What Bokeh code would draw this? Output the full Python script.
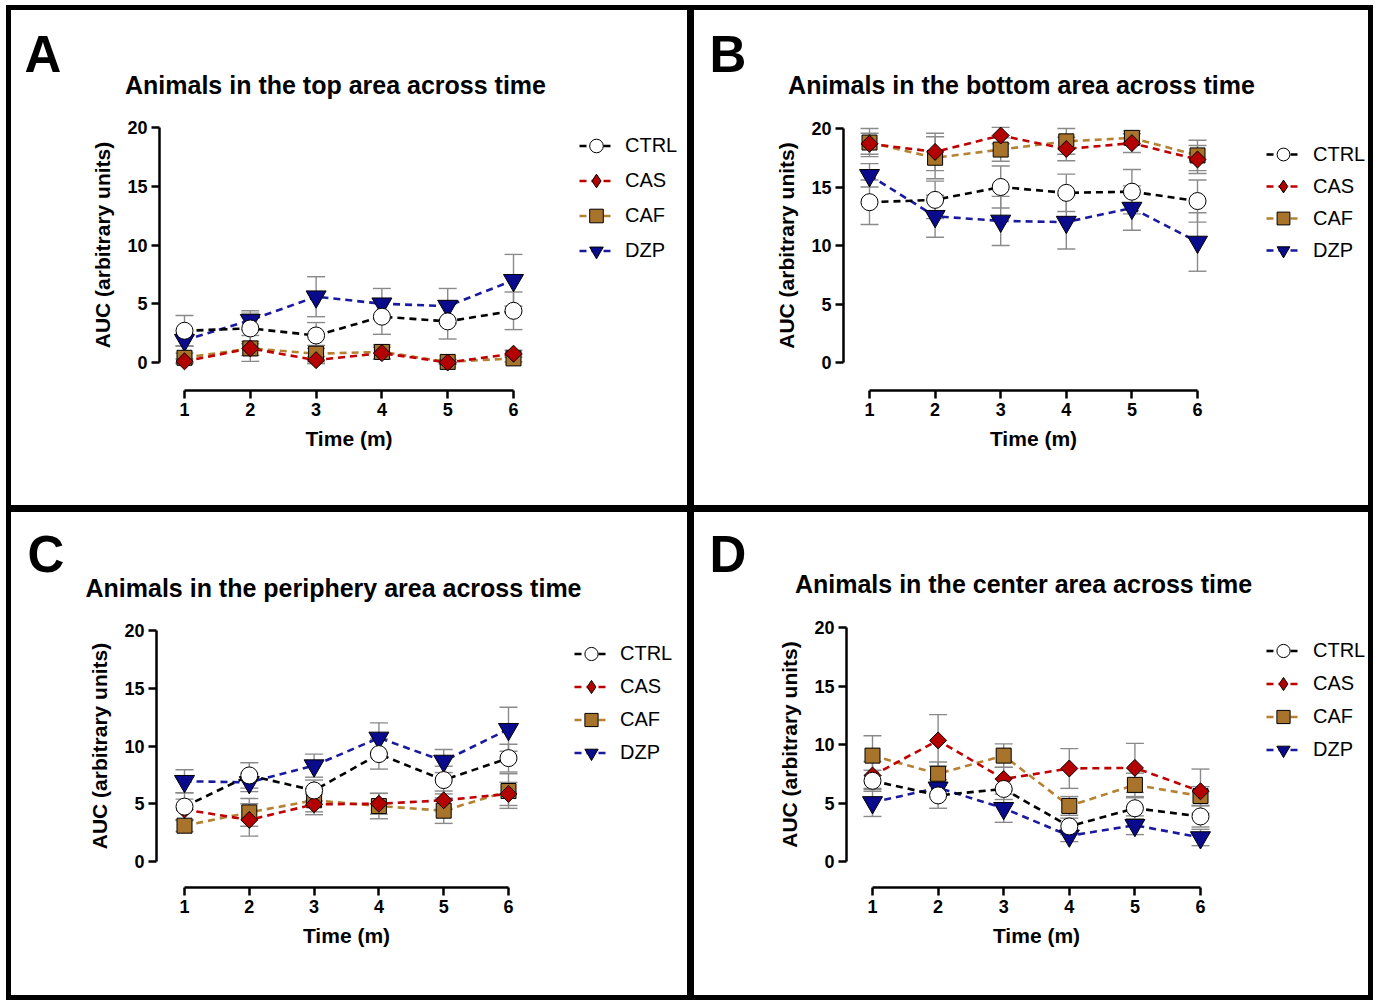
from bokeh.plotting import figure
from bokeh.models import (ColumnDataSource, Whisker, TeeHead, Label, Legend, LegendItem,
                          FixedTicker, Range1d)
from bokeh.layouts import row, column
from bokeh.embed import file_html
from bokeh.resources import INLINE
import math

# ---------------- data ----------------
time_points = [1, 2, 3, 4, 5, 6]
groups = ["CTRL", "CAS", "CAF", "DZP"]

# Panel A: top area
a_ctrl = [2.7, 2.9, 2.3, 3.9, 3.5, 4.4]
a_ctrl_err = [1.3, 1.3, 1.1, 1.5, 1.5, 1.6]
a_cas = [0.1, 1.2, 0.2, 0.8, 0.0, 0.75]
a_cas_err = [0.2, 1.1, 0.3, 0.5, 0.1, 0.3]
a_caf = [0.4, 1.2, 0.75, 0.9, 0.05, 0.35]
a_caf_err = [0.4, 0.6, 0.7, 0.6, 0.2, 0.3]
a_dzp = [1.9, 3.6, 5.6, 5.0, 4.8, 7.0]
a_dzp_err = [0.5, 0.8, 1.7, 1.3, 1.5, 2.2]

# Panel B: bottom area
b_ctrl = [13.7, 13.9, 15.0, 14.5, 14.6, 13.8]
b_ctrl_err = [1.9, 1.6, 1.8, 1.6, 1.9, 1.8]
b_cas = [18.7, 18.0, 19.4, 18.25, 18.75, 17.35]
b_cas_err = [0.9, 1.6, 0.7, 1.0, 0.8, 1.2]
b_caf = [18.8, 17.5, 18.2, 18.9, 19.2, 17.7]
b_caf_err = [1.2, 1.8, 1.0, 1.1, 0.6, 1.3]
b_dzp = [16.0, 12.5, 12.1, 12.0, 13.2, 10.3]
b_dzp_err = [1.0, 1.8, 2.1, 2.3, 1.9, 2.5]

# Panel C: periphery area
c_ctrl = [4.75, 7.45, 6.15, 9.3, 7.05, 8.95]
c_ctrl_err = [1.2, 1.1, 0.9, 1.3, 1.2, 1.2]
c_cas = [4.5, 3.6, 4.95, 5.0, 5.3, 5.85]
c_cas_err = [0.9, 1.4, 0.9, 0.9, 0.8, 1.0]
c_caf = [3.1, 4.25, 5.3, 4.8, 4.4, 6.1]
c_caf_err = [0.5, 1.2, 1.0, 1.1, 1.1, 1.5]
c_dzp = [6.95, 6.85, 8.3, 10.7, 8.7, 11.45]
c_dzp_err = [1.0, 0.8, 1.0, 1.3, 1.0, 1.9]

# Panel D: center area
d_ctrl = [6.9, 5.65, 6.2, 3.0, 4.55, 3.85]
d_ctrl_err = [0.9, 1.1, 0.9, 0.7, 0.9, 0.9]
d_cas = [7.35, 10.35, 7.05, 7.95, 8.0, 6.0]
d_cas_err = [1.2, 2.2, 1.0, 1.7, 2.1, 1.9]
d_caf = [9.05, 7.5, 9.05, 4.75, 6.55, 5.6]
d_caf_err = [1.7, 1.0, 1.0, 0.8, 1.0, 0.8]
d_dzp = [5.05, 6.3, 4.55, 2.2, 3.1, 2.05]
d_dzp_err = [1.2, 0.7, 1.2, 0.5, 0.8, 0.7]

x_ticks = [1, 2, 3, 4, 5, 6]
y_ticks = [0, 5, 10, 15, 20]
x_label = "Time (m)"
y_label = "AUC (arbitrary units)"

# ---------------- styles ----------------
FONT = "Liberation Sans"
styles = {
    "CTRL": dict(marker="circle", fill="#ffffff", line="#000000", size=17, angle=0.0),
    "CAS": dict(marker="square", fill="#b30000", line="#c00000", size=12, angle=math.pi / 4),
    "CAF": dict(marker="square", fill="#a8742c", line="#b58234", size=15, angle=0.0),
    "DZP": dict(marker="inverted_triangle", fill="#0a0a8c", line="#1a1aa0", size=20, angle=0.0),
}
ERR_COLOR = "#8a8a8a"


def make_panel(letter, title, series, errs, geo, W, H, border):
    bt, br, bb, bl = border
    # the canvas is laid out at the element's outer size, starting at the inner border edge
    Wc = W + bl + br
    Hc = H + bt + bb
    sx = (geo["x6"] - geo["x1"]) / 5.0
    sy = (geo["y0"] - geo["y20"]) / 20.0
    x_start = 1 - geo["x1"] / sx
    x_end = 1 + (Wc - geo["x1"]) / sx
    y_start = -(Hc - geo["y0"]) / sy
    y_end = geo["y0"] / sy
    yaxis_loc = 1 - (geo["x1"] - geo["yaxis"]) / sx
    xaxis_loc = -(geo["xaxis"] - geo["y0"]) / sy

    p = figure(width=W, height=H, title=None, toolbar_location=None, output_backend="svg",
               x_range=Range1d(x_start, x_end), y_range=Range1d(y_start, y_end),
               min_border_left=0, min_border_right=0, min_border_top=0, min_border_bottom=0,
               styles={"border-style": "solid", "border-color": "black",
                       "border-width": "%dpx %dpx %dpx %dpx" % border,
                       "box-sizing": "content-box"})
    p.outline_line_color = None
    p.xgrid.visible = False
    p.ygrid.visible = False
    p.background_fill_color = "white"
    p.border_fill_color = "white"

    for ax in (p.xaxis[0], p.yaxis[0]):
        ax.axis_line_width = 2.5
        ax.axis_line_color = "black"
        ax.major_tick_line_width = 2.5
        ax.major_tick_line_color = "black"
        ax.major_tick_out = 8
        ax.major_tick_in = 0
        ax.minor_tick_line_color = None
        ax.major_label_text_font = FONT
        ax.major_label_text_font_style = "bold"
        ax.major_label_text_font_size = "18px"
        ax.major_label_text_color = "black"
        ax.axis_label_text_font = FONT
        ax.axis_label_text_font_style = "bold"
        ax.axis_label_text_font_size = "21px"
        ax.axis_label_text_color = "black"
    p.xaxis[0].ticker = FixedTicker(ticks=x_ticks)
    p.yaxis[0].ticker = FixedTicker(ticks=y_ticks)
    p.xaxis[0].bounds = (x_ticks[0], x_ticks[-1])
    p.yaxis[0].bounds = (y_ticks[0], y_ticks[-1])
    p.xaxis[0].fixed_location = xaxis_loc
    p.yaxis[0].fixed_location = yaxis_loc
    p.xaxis[0].axis_label = x_label
    p.yaxis[0].axis_label = y_label
    p.xaxis[0].major_label_standoff = 4
    p.yaxis[0].major_label_standoff = 4
    p.xaxis[0].axis_label_standoff = 8
    p.yaxis[0].axis_label_standoff = 10

    renderers = {}
    for g in ["DZP", "CAF", "CAS", "CTRL"]:
        st = styles[g]
        ys = series[g]
        es = errs[g]
        src = ColumnDataSource(dict(x=time_points, y=ys,
                                    upper=[v + e for v, e in zip(ys, es)],
                                    lower=[v - e for v, e in zip(ys, es)]))
        wh = Whisker(base="x", upper="upper", lower="lower", source=src, dimension="height",
                     line_color=ERR_COLOR, line_width=1.4, level="underlay",
                     upper_head=TeeHead(size=18, line_color=ERR_COLOR, line_width=1.4),
                     lower_head=TeeHead(size=18, line_color=ERR_COLOR, line_width=1.4))
        p.add_layout(wh)
        lr = p.line("x", "y", source=src, line_color=st["line"] if g != "CTRL" else "black",
                    line_width=2.6, line_dash="7 5")
        if g == "CAS":
            # legend swatch (legend markers ignore rotation): a diamond drawn beneath
            # the rotated squares, fully covered by them
            sw = p.scatter("x", "y", source=src, marker="diamond", size=14,
                           fill_color=st["fill"], line_color="black", line_width=1)
        sr = p.scatter("x", "y", source=src, marker=st["marker"], size=st["size"],
                       angle=st["angle"], fill_color=st["fill"], line_color="black",
                       line_width=1)
        renderers[g] = (lr, sw) if g == "CAS" else (lr, sr)

    # legend
    gw = 34
    gh = int(round(geo["lg_pitch"]))
    top = geo["lg_y1"] - gh / 2.0
    bottom = top + 4 * gh
    legend = Legend(items=[LegendItem(label=g, renderers=list(renderers[g])) for g in groups],
                    location=(geo["lg_x"] - gw / 2.0, Hc - bottom),
                    glyph_width=gw, glyph_height=gh, spacing=0,
                    label_standoff=int(geo["lg_label"] - geo["lg_x"] - gw / 2.0),
                    padding=0, margin=0, border_line_color=None, background_fill_alpha=0,
                    label_text_font=FONT, label_text_font_size="20px", label_text_color="black")
    p.add_layout(legend)

    # panel letter and title (anchor sits ~0.355 em above the drawn baseline)
    p.add_layout(Label(x=geo["let_x"], y=Hc - (geo["let_base"] - 18), x_units="screen",
                       y_units="screen", text=letter, text_font=FONT, text_font_style="bold",
                       text_font_size="51px", text_align="left", text_baseline="alphabetic",
                       text_color="black"))
    p.add_layout(Label(x=geo["title_x"], y=Hc - (geo["title_base"] - 9), x_units="screen",
                       y_units="screen", text=title, text_font=FONT, text_font_style="bold",
                       text_font_size="25px", text_align="center", text_baseline="alphabetic",
                       text_color="black"))
    return p


geoA = dict(yaxis=148, xaxis=380, x1=173, x6=502, y0=352, y20=117,
            lg_x=585, lg_y1=135, lg_pitch=35.3, lg_label=614,
            let_x=13, let_base=62, title_x=324, title_base=83)
geoB = dict(yaxis=149, xaxis=380, x1=175, x6=503, y0=352, y20=118,
            lg_x=589, lg_y1=144, lg_pitch=32, lg_label=619,
            let_x=15, let_base=62, title_x=327, title_base=83)
geoC = dict(yaxis=145, xaxis=375, x1=173, x6=497, y0=349, y20=118,
            lg_x=580, lg_y1=141, lg_pitch=32.7, lg_label=609,
            let_x=16, let_base=60, title_x=322, title_base=84)
geoD = dict(yaxis=152, xaxis=375, x1=178, x6=506, y0=349, y20=115,
            lg_x=589, lg_y1=138, lg_pitch=33, lg_label=619,
            let_x=15, let_base=60, title_x=329, title_base=80)

pA = make_panel("A", "Animals in the top area across time",
                dict(CTRL=a_ctrl, CAS=a_cas, CAF=a_caf, DZP=a_dzp),
                dict(CTRL=a_ctrl_err, CAS=a_cas_err, CAF=a_caf_err, DZP=a_dzp_err),
                geoA, 676, 495, (5, 3, 3, 5))
pB = make_panel("B", "Animals in the bottom area across time",
                dict(CTRL=b_ctrl, CAS=b_cas, CAF=b_caf, DZP=b_dzp),
                dict(CTRL=b_ctrl_err, CAS=b_cas_err, CAF=b_caf_err, DZP=b_dzp_err),
                geoB, 674, 495, (5, 5, 3, 4))
pC = make_panel("C", "Animals in the periphery area across time",
                dict(CTRL=c_ctrl, CAS=c_cas, CAF=c_caf, DZP=c_dzp),
                dict(CTRL=c_ctrl_err, CAS=c_cas_err, CAF=c_caf_err, DZP=c_dzp_err),
                geoC, 676, 483, (4, 3, 5, 5))
pD = make_panel("D", "Animals in the center area across time",
                dict(CTRL=d_ctrl, CAS=d_cas, CAF=d_caf, DZP=d_dzp),
                dict(CTRL=d_ctrl_err, CAS=d_cas_err, CAF=d_caf_err, DZP=d_dzp_err),
                geoD, 674, 483, (4, 5, 5, 4))

layout = column(row(pA, pB), row(pC, pD), styles={"margin-left": "6px", "margin-top": "5px"})
open("out.html", "w").write(file_html(layout, INLINE))
